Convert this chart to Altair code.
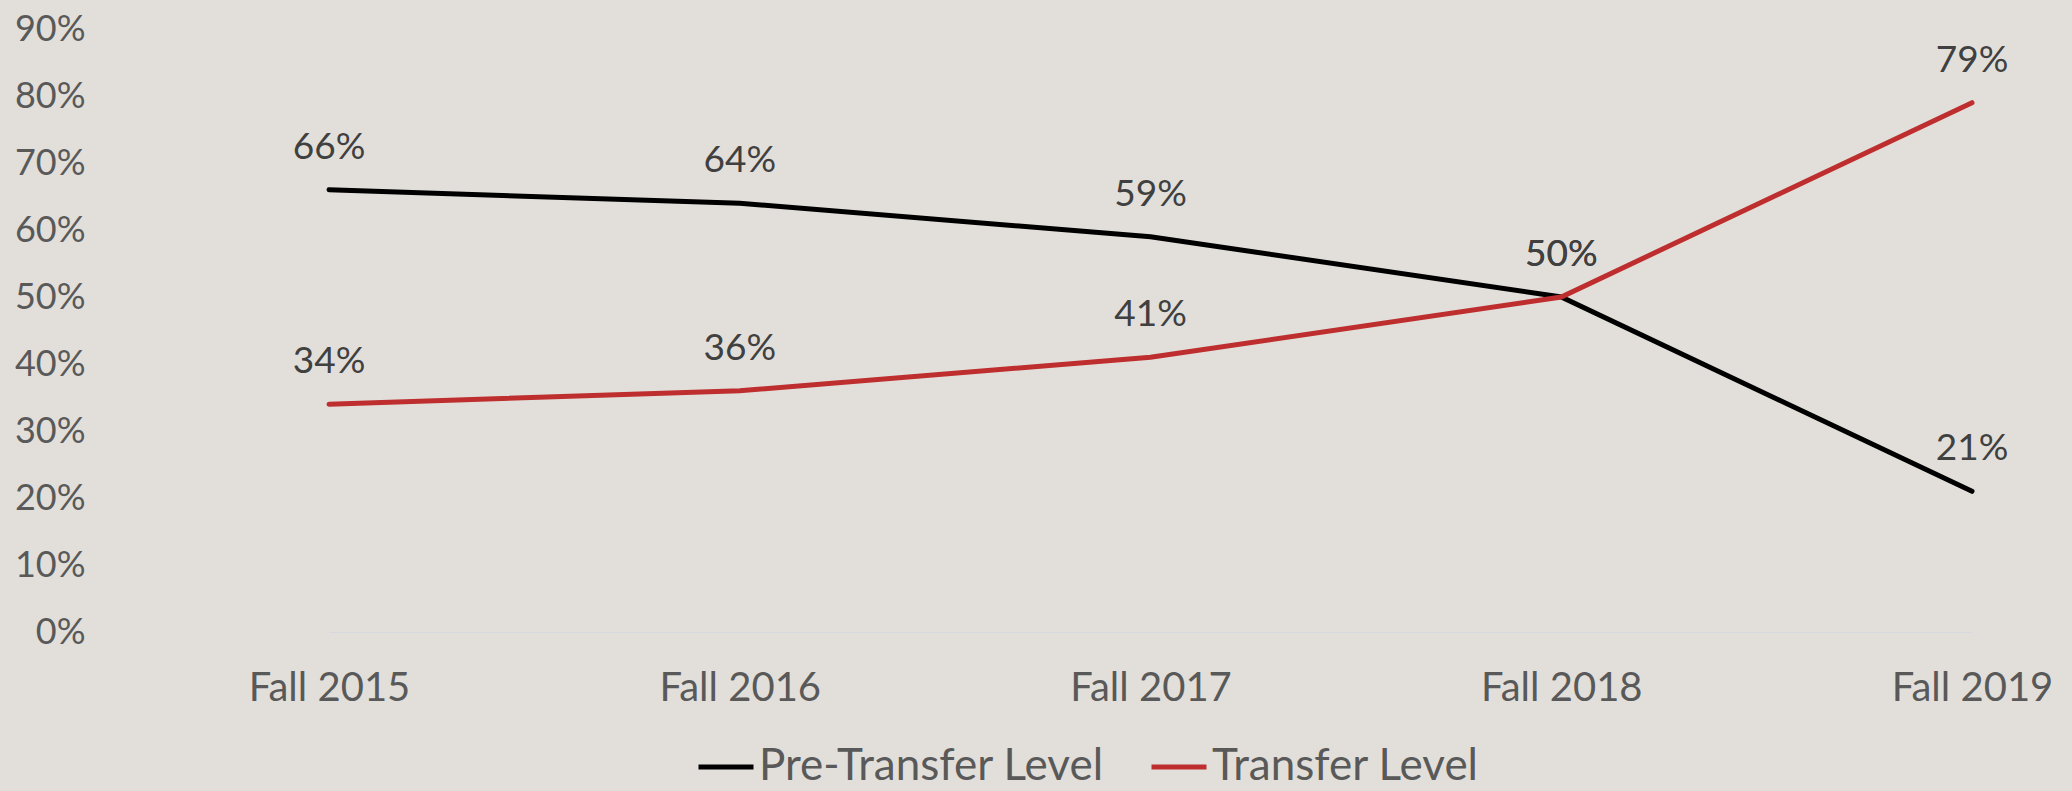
import altair as alt
import pandas as pd

terms = ["Fall 2015", "Fall 2016", "Fall 2017", "Fall 2018", "Fall 2019"]
pre_transfer = [0.66, 0.64, 0.59, 0.50, 0.21]
transfer = [0.34, 0.36, 0.41, 0.50, 0.79]
series_names = ["Pre-Transfer Level", "Transfer Level"]
series_colors = ["#000000", "#BE2E2E"]
y_ticks = [0, 0.1, 0.2, 0.3, 0.4, 0.5, 0.6, 0.7, 0.8, 0.9]

rows = []
for t, v in zip(terms, pre_transfer):
    rows.append({"term": t, "series": series_names[0], "value": v})
for t, v in zip(terms, transfer):
    rows.append({"term": t, "series": series_names[1], "value": v})
df = pd.DataFrame(rows)

FONT = "Lato"

x_enc = alt.X("term:N", sort=terms, title=None,
              scale=alt.Scale(type="point", range=[205, 1848], padding=0),
              axis=alt.Axis(labelAngle=0, labelFontSize=40, labelColor="#595959",
                            labelFont=FONT, labelPadding=36, ticks=False,
                            domainColor="#d5d8dc", domainWidth=1, grid=False))
y_enc = alt.Y("value:Q", title=None,
              scale=alt.Scale(domain=[0, 0.9], nice=False, zero=True),
              axis=alt.Axis(values=y_ticks, format=".0%", labelFontSize=36,
                            labelColor="#595959", labelFont=FONT, labelPadding=39,
                            ticks=False, domain=False, grid=False))
color_enc = alt.Color("series:N", sort=series_names,
                      scale=alt.Scale(domain=series_names, range=series_colors),
                      legend=alt.Legend(title=None, orient="none", direction="horizontal",
                                        legendX=572, legendY=708,
                                        symbolType="stroke", symbolSize=3025,
                                        symbolStrokeWidth=5, labelFontSize=44,
                                        labelFont=FONT, labelColor="#595959",
                                        labelOffset=3, columnPadding=37,
                                        labelLimit=600))

lines = alt.Chart(df).mark_line(strokeWidth=5, strokeCap="round").encode(
    x=x_enc, y=y_enc, color=color_enc
)

labels = alt.Chart(df).mark_text(dy=-42, fontSize=37, font=FONT, color="#404040",
                                 baseline="middle", align="center").encode(
    x=alt.X("term:N", sort=terms), y="value:Q",
    text=alt.Text("value:Q", format=".0%")
)

chart = alt.layer(lines, labels).properties(
    width=1948, height=603,
    background="#e2dfda",
    padding={"left": 124, "top": 29, "right": 0, "bottom": 159},
    autosize=alt.AutoSizeParams(type="none"),
).configure_view(stroke=None)

chart.save("out.html", embed_options={"renderer": "svg", "actions": False})
